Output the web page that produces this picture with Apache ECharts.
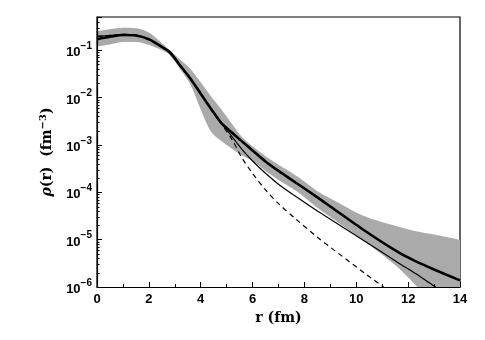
<!DOCTYPE html>
<html>
<head>
<meta charset="utf-8">
<script src="https://cdn.jsdelivr.net/npm/echarts@6/dist/echarts.min.js"></script>
<style>
html,body{margin:0;padding:0;background:#fff;}
#chart{width:485px;height:340px;}
</style>
</head>
<body>
<div id="chart"></div>
<script>
// r values (fm)
const rValues = [0, 0.5, 1, 1.5, 2, 2.5, 2.8, 3.2, 3.6, 4, 4.4, 4.8, 5.2, 5.6, 6, 6.5, 7, 7.7, 8.5, 9, 10.3, 11.6, 12.3, 13, 14];
// thick solid curve
const rhoThick = [0.170, 0.191, 0.209, 0.204, 0.170, 0.117, 0.0912, 0.0479, 0.0251, 0.0120, 5.75e-3, 2.88e-3, 1.82e-3, 1.17e-3, 7.6e-4, 4.47e-4, 2.82e-4, 1.55e-4, 7.8e-5, 5.0e-5, 1.58e-5, 5.5e-6, 3.47e-6, 2.34e-6, 1.38e-6];
// thin solid curve
const rhoThin = [0.195, 0.204, 0.214, 0.207, 0.170, 0.117, 0.0912, 0.0479, 0.0251, 0.0120, 5.75e-3, 2.88e-3, 1.51e-3, 7.9e-4, 4.57e-4, 2.51e-4, 1.48e-4, 7.9e-5, 4.0e-5, 2.69e-5, 9.5e-6, 3.3e-6, 1.9e-6, 1.05e-6, 4.7e-7];
// dashed curve
const rhoDashed = [0.195, 0.204, 0.214, 0.207, 0.170, 0.117, 0.0912, 0.0479, 0.0251, 0.0120, 5.75e-3, 2.75e-3, 1.32e-3, 5.2e-4, 2.5e-4, 1.12e-4, 5.75e-5, 2.63e-5, 1.12e-5, 6.9e-6, 2.0e-6, 6.0e-7, 3.0e-7, 1.5e-7, 6e-8];
// uncertainty band
const bandUpper = [0.251, 0.275, 0.295, 0.288, 0.234, 0.141, 0.100, 0.063, 0.040, 0.0209, 0.0105, 5.6e-3, 2.8e-3, 1.45e-3, 9.3e-4, 5.75e-4, 3.8e-4, 2.19e-4, 1.05e-4, 7.4e-5, 3.16e-5, 1.9e-5, 1.51e-5, 1.29e-5, 1.0e-5];
const bandLower = [0.120, 0.132, 0.148, 0.148, 0.129, 0.100, 0.079, 0.040, 0.019, 5.6e-3, 1.9e-3, 1.2e-3, 8.3e-4, 6.0e-4, 4.6e-4, 2.8e-4, 1.82e-4, 1.05e-4, 4.7e-5, 3.0e-5, 9.3e-6, 2.6e-6, 1.07e-6, 4e-7, 1e-7];
// axis ticks
const yDecades = [-6, -5, -4, -3, -2, -1];
const yMinorMantissas = [2, 3, 4, 5, 6, 7, 8, 9];

const pairs = arr => rValues.map((r, i) => [r, arr[i]]);
const yMinorTicks = [];
yDecades.forEach(function (d) {
  yMinorMantissas.forEach(function (m) {
    const v = m * Math.pow(10, d);
    if (v <= 0.5) yMinorTicks.push([0, v]);
  });
});

const chart = echarts.init(document.getElementById('chart'), null, {renderer: 'canvas'});
const lineCommon = {type: 'line', smooth: 0.3, symbol: 'none', silent: true, clip: true};
chart.setOption({
  animation: false,
  backgroundColor: '#fff',
  grid: {left: 97, right: 25, top: 17, bottom: 53, show: true, borderColor: '#000', borderWidth: 1.2, backgroundColor: 'transparent'},
  xAxis: {
    type: 'value', min: 0, max: 14, interval: 2, z: 10,
    axisLine: {lineStyle: {color: '#000', width: 1.2}},
    axisTick: {inside: true, length: 5, lineStyle: {color: '#000', width: 1}},
    minorTick: {show: true, splitNumber: 2, length: 3, lineStyle: {color: '#000', width: 1}},
    splitLine: {show: false},
    axisLabel: {color: '#000', fontFamily: 'Liberation Sans', fontWeight: 'bold', fontSize: 13, margin: 6},
    name: 'r (fm)', nameLocation: 'middle', nameGap: 22,
    nameTextStyle: {color: '#000', fontFamily: 'DejaVu Serif', fontWeight: 'bold', fontSize: 14}
  },
  yAxis: {
    type: 'log', logBase: 10, min: 1e-6, max: 0.5, splitNumber: 6, z: 10,
    axisLine: {lineStyle: {color: '#000', width: 1.2}},
    axisTick: {inside: true, length: 5, lineStyle: {color: '#000', width: 1}},
    minorTick: {show: false},
    splitLine: {show: false},
    axisLabel: {
      margin: 5,
      formatter: function (v) {
        const e = Math.log10(v);
        const k = Math.round(e);
        if (Math.abs(e - k) > 1e-6 || yDecades.indexOf(k) < 0) return '';
        return '{b|10}{s|−' + Math.abs(k) + '}';
      },
      rich: {
        b: {color: '#000', fontFamily: 'Liberation Sans', fontWeight: 'bold', fontSize: 13, verticalAlign: 'bottom', lineHeight: 18},
        s: {color: '#000', fontFamily: 'Liberation Sans', fontWeight: 'bold', fontSize: 10, verticalAlign: 'top', lineHeight: 18, padding: [0, 0, 6, 0]}
      }
    },
    name: '{i|ρ}{n|(r)  (fm}{s|−3}{n|)}', nameLocation: 'middle', nameGap: 41,
    nameTextStyle: {
      rich: {
        i: {color: '#000', fontFamily: 'DejaVu Serif', fontStyle: 'italic', fontWeight: 'bold', fontSize: 14},
        n: {color: '#000', fontFamily: 'DejaVu Serif', fontWeight: 'bold', fontSize: 14},
        s: {color: '#000', fontFamily: 'DejaVu Serif', fontWeight: 'bold', fontSize: 10, padding: [0, 0, 8, 0]}
      }
    }
  },
  series: [
    Object.assign({}, lineCommon, {data: pairs(bandUpper), lineStyle: {width: 0}, areaStyle: {color: '#aaaaaa', opacity: 1, origin: 'start'}, z: 1}),
    Object.assign({}, lineCommon, {data: pairs(bandLower), lineStyle: {width: 0}, areaStyle: {color: '#ffffff', opacity: 1, origin: 'start'}, z: 1}),
    Object.assign({}, lineCommon, {data: pairs(rhoDashed), lineStyle: {color: '#000', width: 1.2, type: [5, 4]}, z: 3}),
    Object.assign({}, lineCommon, {data: pairs(rhoThin), lineStyle: {color: '#000', width: 1.2}, z: 3}),
    Object.assign({}, lineCommon, {data: pairs(rhoThick), lineStyle: {color: '#000', width: 2.6}, z: 4}),
    {
      type: 'custom', silent: true, clip: false, z: 20,
      data: yMinorTicks,
      renderItem: function (params, api) {
        const p = api.coord([api.value(0), api.value(1)]);
        const y = Math.round(p[1]) + 0.5;
        return {type: 'line', shape: {x1: p[0], y1: y, x2: p[0] + 2.5, y2: y}, style: {stroke: '#000', lineWidth: 1}};
      }
    }
  ]
});
</script>
</body>
</html>
